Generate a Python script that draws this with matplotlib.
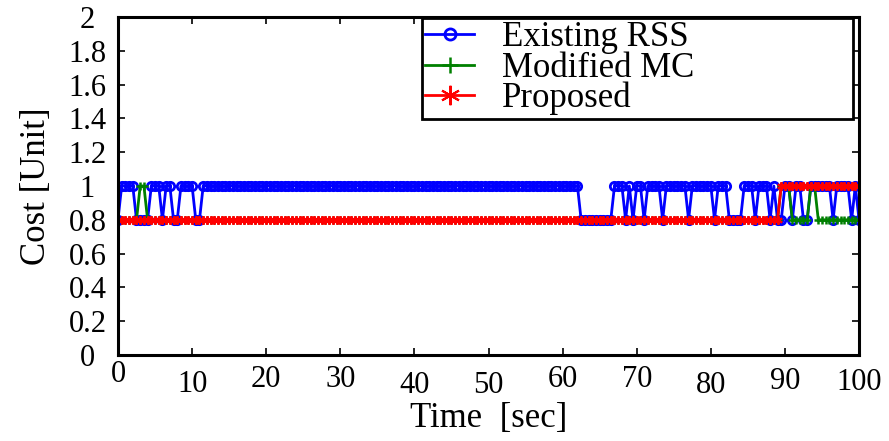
import numpy as np
import matplotlib
matplotlib.use("Agg")
import matplotlib.pyplot as plt
from matplotlib.transforms import ScaledTranslation

plt.rcParams['font.family'] = ['Liberation Serif', 'DejaVu Serif']
plt.rcParams['mathtext.fontset'] = 'stix'

# Sampling of the cost trace (seconds)
t_start, t_end, t_step = 0.0, 100.0, 0.5
low_cost, high_cost = 0.8, 1.0

# Time spans (inclusive sample times) during which each scheme costs 1 unit
rss_high = [(0.5, 2.0), (4.5, 5.5), (6.5, 7.0), (8.5, 10.0), (11.5, 62.0),
            (67.0, 68.0), (69.0, 69.0), (70.0, 70.5), (71.5, 73.0),
            (74.0, 76.5), (77.5, 80.0), (81.0, 82.0), (84.5, 85.5),
            (86.5, 87.5), (88.5, 88.5), (90.0, 90.5), (91.5, 92.0),
            (93.5, 96.0), (97.0, 98.5), (99.5, 99.5)]
mc_high = [(3.0, 3.5), (89.5, 90.5), (93.5, 94.0)]
proposed_high = [(89.5, 100.0)]

series_labels = ["Existing RSS", "Modified MC", "Proposed"]
x_ticks = [0, 10, 20, 30, 40, 50, 60, 70, 80, 90, 100]
y_ticks = [0, 0.2, 0.4, 0.6, 0.8, 1.0, 1.2, 1.4, 1.6, 1.8, 2.0]
y_tick_labels = ["0", "0.2", "0.4", "0.6", "0.8", "1", "1.2", "1.4", "1.6", "1.8", "2"]


def cost_trace(spans):
    t = np.arange(t_start, t_end + t_step / 2, t_step)
    c = np.full_like(t, low_cost)
    for a, b in spans:
        c[(t >= a - 1e-9) & (t <= b + 1e-9)] = high_cost
    return t, c


fig = plt.figure(figsize=(8.89, 4.41), dpi=100)
ax = fig.add_axes([0.1327, 0.195, 0.8336, 0.7665])

styles = [
    dict(color=(0, 0, 1), marker='o', ms=6, mfc='none', mew=2.0),
    dict(color=(0, 0.5, 0), marker='+', ms=6, mew=1.8),
    dict(color=(1, 0, 0), marker=(6, 2, 0), ms=6, mew=1.5),
]
for spans, lab, st in zip([rss_high, mc_high, proposed_high], series_labels, styles):
    t, c = cost_trace(spans)
    ax.plot(t, c, lw=2.0, label=lab, **st)

ax.set_xlim(0, 100)
ax.set_ylim(0, 2)
ax.set_xticks(x_ticks)
ax.set_yticks(y_ticks)
ax.set_yticklabels(y_tick_labels)

for sp in ax.spines.values():
    sp.set_linewidth(2.2)
    sp.set_color('black')

ax.tick_params(direction='in', length=5, width=1.2, top=True, right=True,
               labelsize=22)
ax.tick_params(axis='y', pad=22)
for lbl in ax.get_yticklabels():
    lbl.set_horizontalalignment('center')

# staggered horizontal tick labels
x_label_drop = [0, 10, 5, 5, 11, 11, 5, 5, 11, 7, 8]
for lbl, dy in zip(ax.get_xticklabels(), x_label_drop):
    lbl.set_transform(lbl.get_transform() +
                      ScaledTranslation(0, -dy / 100.0, fig.dpi_scale_trans))

ax.set_xlabel("Time  [sec]", fontsize=25, labelpad=1.5)
ax.set_ylabel("Cost [Unit]", fontsize=25, labelpad=11)

leg = ax.legend(loc='upper left', bbox_to_anchor=(0.410, 0.70, 0.582, 0.297),
                mode='expand', borderaxespad=0, fancybox=False, framealpha=1,
                edgecolor='black', fontsize=25, handlelength=1.4,
                handletextpad=0.8, labelspacing=-0.08, borderpad=0.1)
leg.get_frame().set_linewidth(2.0)
for h, size in zip(leg.legend_handles, [8, 12, 14]):
    h.set_markersize(size)

fig.savefig("out.png", dpi=100)
